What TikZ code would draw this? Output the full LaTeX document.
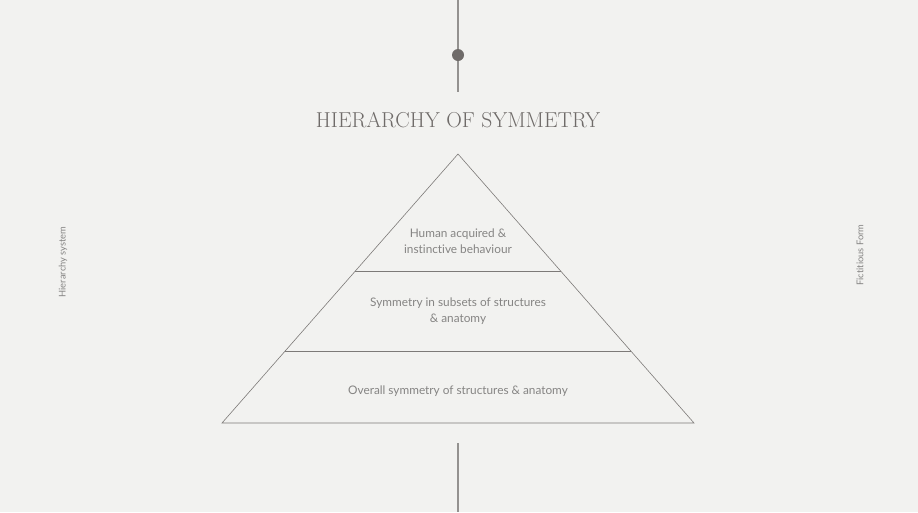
\documentclass[tikz,border=0pt]{standalone}
\usepackage{fontspec}
\newfontfamily\labelfont[Ligatures=NoCommon]{Lato}
\usepackage{xcolor}
\usetikzlibrary{positioning}
\definecolor{paper}{HTML}{F2F2F0}
\definecolor{ink}{HTML}{6F6B69}
\definecolor{stem}{HTML}{949290}
\definecolor{tier}{HTML}{858483}
\tikzset{
  tiertext/.style={text=tier,font=\labelfont\fontsize{11.8}{16}\selectfont,align=center},
  sidetext/.style={text=tier,font=\labelfont\fontsize{9.3}{10}\selectfont,rotate=90},
  stemline/.style={draw=stem,line width=1.2pt},
  edge/.style={draw=ink!90,line width=0.6pt}
}
\begin{document}
\begin{tikzpicture}[x=1pt,y=-1pt]
        \fill[paper] (0,0) rectangle (918,512);
        \useasboundingbox (0,0) rectangle (918,512);

        % stems
        \coordinate (topend) at (458,0);
        \coordinate (topfoot) at (458,92);
        \coordinate (botend) at (458,512);
        \coordinate (bothead) at (458,443);
        \draw[stemline] (topend) -- (topfoot);
        \draw[stemline] (bothead) -- (botend);
        \fill[ink] (458,55) circle (6);

        \node[text=ink,font=\fontsize{21.6}{24}\selectfont] (title) at (458,120) {HIERARCHY OF SYMMETRY};

        % pyramid
        \coordinate (apex) at (458,154);
        \coordinate (baseL) at (222,423);
        \coordinate (baseR) at (694,423);
        \coordinate (midL) at (355.3,271);
        \coordinate (midR) at (560.7,271);
        \coordinate (lowL) at (285,351);
        \coordinate (lowR) at (631,351);
        \draw[edge] (apex) -- (baseR) -- (baseL) -- cycle;
        \draw[edge] (midL) -- (midR);
        \draw[edge] (lowL) -- (lowR);

        \node[tiertext] (top) at (458,241) {Human acquired \&\\instinctive behaviour};
        \node[tiertext] (middle) at (458,311) {Symmetry in subsets of structures\\\& anatomy};
        \node[tiertext] (bottom) at (458,391) {Overall symmetry of structures \& anatomy};

        \node[sidetext] (left) at (63,262) {Hierarchy system};
        \node[sidetext] (right) at (860,255) {Fictitious Form};
    \end{tikzpicture}
\end{document}
